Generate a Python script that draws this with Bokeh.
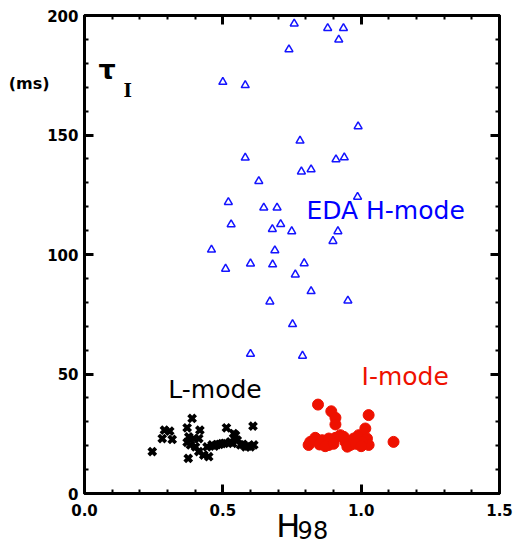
from bokeh.plotting import figure
from bokeh.models import Range1d, FixedTicker, LinearAxis, Label
from bokeh.embed import file_html
from bokeh.resources import INLINE

# ---------------- data ----------------
x_ticks = [0.0, 0.5, 1.0, 1.5]
x_tick_labels = ["0.0", "0.5", "1.0", "1.5"]
x_minor = [0.1, 0.2, 0.3, 0.4, 0.6, 0.7, 0.8, 0.9, 1.1, 1.2, 1.3, 1.4]
y_ticks = [0, 50, 100, 150, 200]
y_tick_labels = ["0", "50", "100", "150", "200"]
y_minor = [10, 20, 30, 40, 60, 70, 80, 90, 110, 120, 130, 140, 160, 170, 180, 190]

eda_h98 = [0.758, 0.879, 0.936, 0.919, 0.739, 0.500, 0.581, 0.989, 0.779, 0.581,
           0.909, 0.939, 0.784, 0.819, 0.630, 0.987, 0.520, 0.648, 0.696, 0.530,
           0.679, 0.709, 0.749, 0.916, 0.898, 0.459, 0.688, 0.510, 0.600, 0.680,
           0.794, 0.762, 0.819, 0.670, 0.952, 0.752, 0.600, 0.788]
eda_tau = [196.6, 194.7, 194.7, 189.9, 185.8, 172.2, 170.8, 153.6, 147.6, 140.5,
           139.8, 140.6, 134.7, 135.6, 130.7, 124.1, 121.9, 119.6, 119.6, 112.6,
           110.6, 112.7, 109.7, 109.7, 105.6, 102.0, 101.7, 94.0, 96.2, 95.8,
           96.3, 91.6, 84.6, 80.3, 80.7, 70.8, 58.4, 57.6]

l_h98 = [0.245, 0.389, 0.289, 0.308, 0.281, 0.317, 0.371, 0.417, 0.377, 0.395,
         0.413, 0.371, 0.383, 0.401, 0.413, 0.431, 0.449, 0.375, 0.443, 0.461,
         0.479, 0.497, 0.513, 0.527, 0.546, 0.552, 0.564, 0.582, 0.600, 0.612,
         0.609, 0.539, 0.470, 0.488, 0.506, 0.535, 0.573, 0.591]
l_tau = [17.5, 31.4, 26.5, 26.1, 23.0, 22.6, 27.5, 26.5, 23.7, 23.0,
         23.0, 21.4, 20.3, 19.5, 17.5, 16.1, 15.4, 14.7, 19.5, 20.3,
         20.5, 20.9, 27.5, 21.6, 24.4, 22.3, 20.3, 19.5, 19.5, 20.3,
         28.2, 25.1, 19.8, 20.6, 21.0, 21.0, 20.6, 19.8]

i_h98 = [0.844, 0.892, 0.907, 0.907, 1.027, 1.117, 0.810, 0.834, 0.859, 0.883,
         0.907, 0.925, 0.943, 0.961, 0.973, 0.991, 1.015, 1.021, 1.027, 1.003,
         0.883, 0.937, 0.816, 0.850, 0.870, 0.900, 0.950, 0.980, 1.000]
i_tau = [37.2, 34.4, 31.7, 28.9, 32.8, 21.6, 20.3, 23.3, 22.3, 20.3,
         23.3, 24.4, 21.6, 20.3, 23.0, 24.4, 27.2, 23.0, 20.3, 21.6,
         23.0, 23.7, 21.6, 20.5, 19.8, 20.8, 19.6, 20.8, 19.8]

# axis-title texts and where their centres sit on the axes
x_title_main, x_title_main_pos = "H", 0.7366
x_title_sub, x_title_sub_pos = "98", 0.8255
y_unit, y_unit_pos = "(ms)", 171.5

BLUE = "#1414ff"
RED = "#ee1100"
FONT = "DejaVu Sans"

p = figure(width=514, height=547, output_backend="svg", toolbar_location=None,
           x_range=Range1d(0, 1.5), y_range=Range1d(0, 200),
           min_border_left=84, min_border_right=15, min_border_top=15, min_border_bottom=54)
p.grid.visible = False
p.outline_line_color = "black"
p.outline_line_width = 3
p.background_fill_color = "white"
p.border_fill_color = "white"


def style_axis(ax, ticks, minor, labels, show_labels):
    ax.ticker = FixedTicker(ticks=ticks, minor_ticks=minor)
    ax.axis_line_width = 3
    ax.axis_line_color = "black"
    ax.major_tick_in = 9
    ax.major_tick_out = 0
    ax.minor_tick_in = 4
    ax.minor_tick_out = 0
    ax.major_tick_line_width = 3
    ax.minor_tick_line_width = 2
    if show_labels:
        ax.major_label_overrides = {t: l for t, l in zip(ticks, labels)}
        ax.major_label_text_font = FONT
        ax.major_label_text_font_style = "bold"
        ax.major_label_text_font_size = "15px"
        ax.major_label_text_color = "black"
        ax.major_label_standoff = 6
    else:
        ax.major_label_text_font_size = "0px"
        ax.major_label_text_color = None
        ax.major_label_standoff = 0


def text_axis(tick, label, size, standoff, bold=False):
    ax = LinearAxis(ticker=FixedTicker(ticks=[tick], minor_ticks=[]))
    ax.axis_line_color = None
    ax.major_tick_line_color = None
    ax.minor_tick_line_color = None
    ax.major_tick_in = 0
    ax.major_tick_out = 0
    ax.minor_tick_in = 0
    ax.minor_tick_out = 0
    ax.major_label_overrides = {tick: label}
    ax.major_label_text_font = FONT
    ax.major_label_text_font_style = "bold" if bold else "normal"
    ax.major_label_text_font_size = size
    ax.major_label_text_color = "black"
    ax.major_label_standoff = standoff
    return ax


style_axis(p.xaxis[0], x_ticks, x_minor, x_tick_labels, True)
style_axis(p.yaxis[0], y_ticks, y_minor, y_tick_labels, True)
p.xaxis[0].major_label_standoff = 10

ax_r = LinearAxis()
style_axis(ax_r, y_ticks, y_minor, y_tick_labels, False)
p.add_layout(ax_r, "right")
ax_t = LinearAxis()
style_axis(ax_t, x_ticks, x_minor, x_tick_labels, False)
p.add_layout(ax_t, "above")

p.add_layout(text_axis(y_unit_pos, y_unit, "16px", -5, bold=True), "left")
p.add_layout(text_axis(x_title_main_pos, x_title_main, "32px", -12), "below")
p.add_layout(text_axis(x_title_sub_pos, x_title_sub, "24px", -27), "below")

# ---------------- glyphs ----------------
p.scatter(eda_h98, eda_tau, marker="triangle", size=8, fill_color=None,
          line_color=BLUE, line_width=1.5)
p.scatter(l_h98, l_tau, marker="x", size=10, line_color="black", line_width=3.8)
p.scatter(i_h98, i_tau, marker="circle", size=11, fill_color=RED, line_color=RED)

# ---------------- annotations ----------------
p.add_layout(Label(x=0.802, y=118.3, text="EDA H-mode", text_font=FONT,
                   text_font_size="25px", text_color="#0000ff", text_baseline="alphabetic"))
p.add_layout(Label(x=0.303, y=43.7, text="L-mode", text_font=FONT,
                   text_font_size="25px", text_color="black", text_baseline="alphabetic"))
p.add_layout(Label(x=1.0015, y=49.1, text="I-mode", text_font=FONT,
                   text_font_size="25px", text_color=RED, text_baseline="alphabetic"))
p.add_layout(Label(x=0.0506, y=177.2, text="τ", text_font=FONT, text_font_style="bold",
                   text_font_size="27px", text_color="black", text_baseline="alphabetic"))
p.add_layout(Label(x=0.141, y=168.5, text="I", text_font="DejaVu Serif",
                   text_font_style="bold", text_font_size="18px", text_color="black",
                   text_baseline="alphabetic"))

open("out.html", "w").write(file_html(p, INLINE))
